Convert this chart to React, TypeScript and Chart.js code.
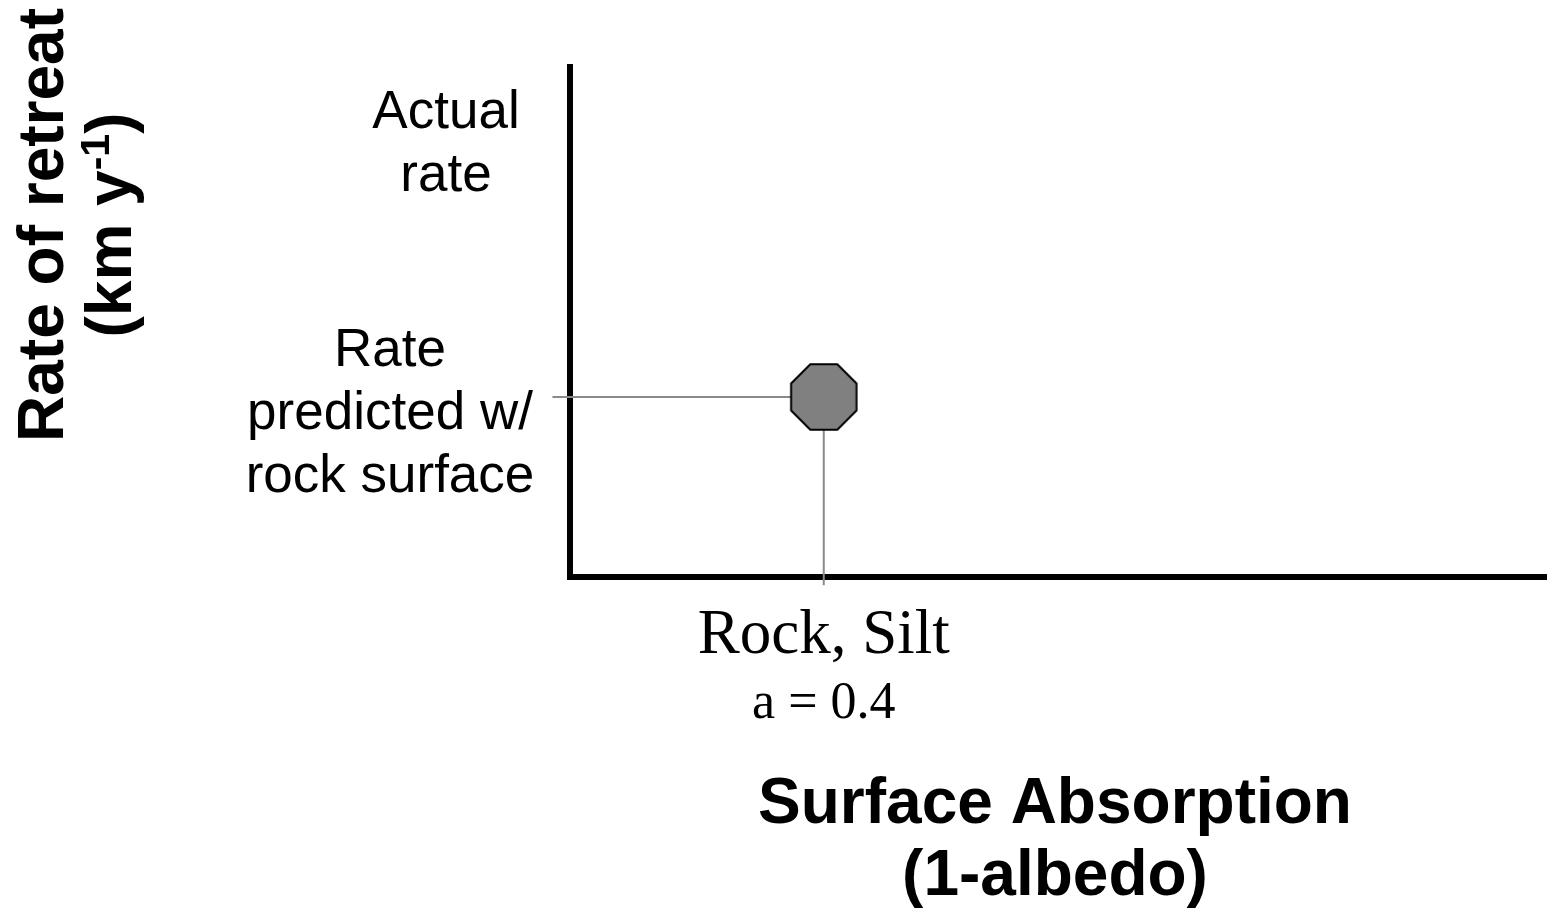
import React, { useEffect, useRef } from "react";
import { Chart, registerables } from "chart.js";

Chart.register(...registerables);

// ---------- data ----------
const categoryLabels: string[] = ["Rock, Silt"];
const albedoLabels: string[] = ["a = 0.4"];
const absorptionValues: number[] = [0.26];
const retreatValues: number[] = [0.353];

const yLabelTexts: string[][] = [
  ["Actual", "rate"],
  ["Rate", "predicted w/", "rock surface"],
];
const yLabelValues: number[] = [0.855, 0.3255];

const xTitleLines: string[] = ["Surface Absorption", "(1-albedo)"];
const yTitleLine1 = "Rate of retreat";
const yTitleLine2Parts: string[] = ["(km y", "-1", ")"];

// guide line ends (slightly beyond the axes)
const guideStartX = -0.018;
const guideEndY = -0.016;

const SANS = "'Liberation Sans', Arial, Helvetica, sans-serif";
const SERIF = "'Liberation Serif', 'Times New Roman', Times, serif";

function makeOctagon(): HTMLCanvasElement {
  const size = 72;
  const c = document.createElement("canvas");
  c.width = size;
  c.height = size;
  const g = c.getContext("2d")!;
  const cx = size / 2;
  const cy = size / 2;
  const r = 35.4;
  g.beginPath();
  for (let i = 0; i < 8; i++) {
    const a = Math.PI / 8 + (i * Math.PI) / 4;
    const px = cx + r * Math.cos(a);
    const py = cy + r * Math.sin(a);
    if (i === 0) g.moveTo(px, py);
    else g.lineTo(px, py);
  }
  g.closePath();
  g.fillStyle = "#808080";
  g.fill();
  g.lineWidth = 2;
  g.strokeStyle = "#000000";
  g.stroke();
  return c;
}

const textPlugin = {
  id: "diagramText",
  afterDraw(chart: any) {
    const { ctx, chartArea, scales } = chart;
    const xs = scales.x;
    const ys = scales.y;
    ctx.save();
    ctx.fillStyle = "#000";
    ctx.textBaseline = "alphabetic";
    ctx.textAlign = "center";

    // y-side annotation labels
    const yLabelOffsets = [-124, -180];
    const lh = 63;
    const capH = 37;
    ctx.font = `53px ${SANS}`;
    yLabelTexts.forEach((lines, i) => {
      const cy = ys.getPixelForValue(yLabelValues[i]);
      const cx = chartArea.left + yLabelOffsets[i];
      const b1 = cy - ((lines.length - 1) * lh - capH) / 2;
      lines.forEach((t, j) => ctx.fillText(t, cx, b1 + j * lh));
    });

    // x category labels
    categoryLabels.forEach((t, i) => {
      const px = xs.getPixelForValue(absorptionValues[i]);
      ctx.font = `63px ${SERIF}`;
      ctx.fillText(t, px, chartArea.bottom + 76);
      ctx.font = `52px ${SERIF}`;
      ctx.fillText(albedoLabels[i], px, chartArea.bottom + 141);
    });

    // x title
    ctx.font = `bold 64px ${SANS}`;
    const tx = (chartArea.left + chartArea.right) / 2 - 3;
    ctx.fillText(xTitleLines[0], tx, 823);
    ctx.fillText(xTitleLines[1], tx, 895);

    // y title (rotated)
    ctx.translate(63, 225);
    ctx.rotate(-Math.PI / 2);
    ctx.font = `bold 64px ${SANS}`;
    ctx.textAlign = "center";
    ctx.fillText(yTitleLine1, 0, 0);
    const big = `bold 64px ${SANS}`;
    const small = `bold 41px ${SANS}`;
    ctx.font = big;
    const w1 = ctx.measureText(yTitleLine2Parts[0]).width;
    const w3 = ctx.measureText(yTitleLine2Parts[2]).width;
    ctx.font = small;
    const w2 = ctx.measureText(yTitleLine2Parts[1]).width;
    const total = w1 + w2 + w3;
    let u = -total / 2;
    const v = 68;
    ctx.textAlign = "left";
    ctx.font = big;
    ctx.fillText(yTitleLine2Parts[0], u, v);
    u += w1;
    ctx.font = small;
    ctx.fillText(yTitleLine2Parts[1], u, v - 22);
    u += w2;
    ctx.font = big;
    ctx.fillText(yTitleLine2Parts[2], u, v);
    ctx.restore();
  },
};

export default function App() {
  const canvasRef = useRef<HTMLCanvasElement | null>(null);

  useEffect(() => {
    const canvas = canvasRef.current;
    if (!canvas) return;
    const octagon = makeOctagon();
    const px = absorptionValues[0];
    const py = retreatValues[0];
    const axisOpts = {
      type: "linear" as const,
      min: 0,
      max: 1,
      ticks: { display: false },
      grid: { display: false, drawTicks: false },
      border: { display: true, color: "#000000", width: 6 },
    };
    const chart = new Chart(canvas, {
      type: "scatter",
      data: {
        datasets: [
          {
            label: "Rock, Silt",
            data: absorptionValues.map((x, i) => ({ x, y: retreatValues[i] })),
            pointStyle: octagon as any,
            pointRadius: 1,
            pointBorderWidth: 0,
            order: 0,
          },
          {
            type: "line" as any,
            label: "guide-h",
            data: [
              { x: guideStartX, y: py },
              { x: px, y: py },
            ],
            borderColor: "#8a8a8a",
            borderWidth: 2,
            pointRadius: 0,
            showLine: true,
            clip: false as any,
            order: 1,
          },
          {
            type: "line" as any,
            label: "guide-v",
            data: [
              { x: px, y: py },
              { x: px, y: guideEndY },
            ],
            borderColor: "#8a8a8a",
            borderWidth: 2,
            pointRadius: 0,
            showLine: true,
            clip: false as any,
            order: 1,
          },
        ],
      },
      options: {
        animation: false,
        responsive: false,
        maintainAspectRatio: false,
        events: [],
        layout: { padding: { left: 570, top: 67, right: 0, bottom: 341 } },
        plugins: {
          legend: { display: false },
          tooltip: { enabled: false },
        },
        scales: {
          x: axisOpts as any,
          y: axisOpts as any,
        },
      },
      plugins: [textPlugin],
    });
    return () => chart.destroy();
  }, []);

  return (
    <div style={{ position: "fixed", left: 0, top: 0, width: 1550, height: 918, background: "#fff" }}>
      <canvas ref={canvasRef} width={1550} height={918} style={{ display: "block" }} />
    </div>
  );
}
